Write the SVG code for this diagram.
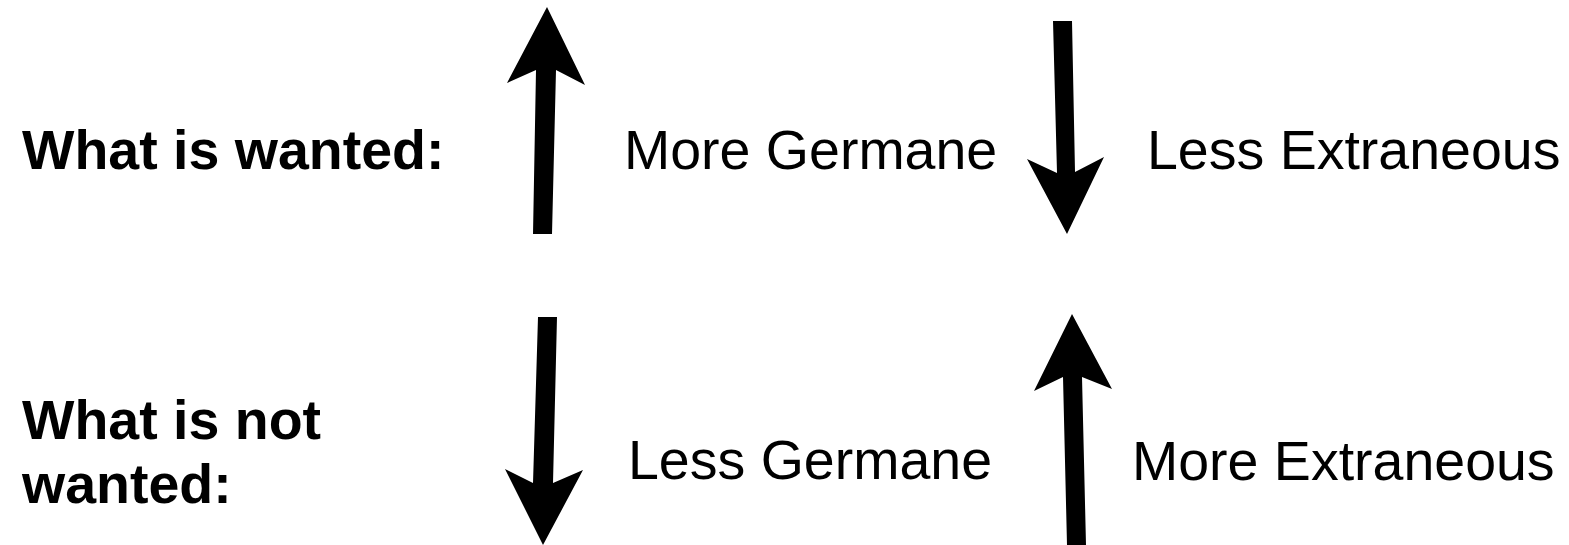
<svg xmlns="http://www.w3.org/2000/svg" width="1569" height="545" viewBox="0 0 1569 545">
<style>
.lbl{font-family:"Liberation Sans",Arial,sans-serif;font-size:55.5px;fill:#000}
.b{font-weight:bold}
.arr{fill:#000}
</style>
<rect width="1569" height="545" fill="#fff"/>
<g id="wanted"><text class="lbl b" x="22" y="169">What is wanted:</text></g>
<g id="notwanted"><text class="lbl b" x="22" y="439">What is not</text><text class="lbl b" x="22" y="503">wanted:</text></g>
<g id="more-germane"><text class="lbl" x="624" y="169">More Germane</text></g>
<g id="less-extraneous"><text class="lbl" x="1147" y="169">Less Extraneous</text></g>
<g id="less-germane"><text class="lbl" x="628" y="479">Less Germane</text></g>
<g id="more-extraneous"><text class="lbl" x="1132" y="480">More Extraneous</text></g>
<g id="connectors">
<polygon class="arr" points="533,234 552,234 556,70 585,85 547,7 507,83 536,70"/>
<polygon class="arr" points="1053,21 1072,21 1075,172 1104,157 1067,234 1027,159 1057,173"/>
<polygon class="arr" points="538,317 557,317 553,483 583,470 543,545 505,469 533,483"/>
<polygon class="arr" points="1067,545 1086,545 1082,377 1112,389 1072,314 1034,391 1063,377"/>
</g>
</svg>
